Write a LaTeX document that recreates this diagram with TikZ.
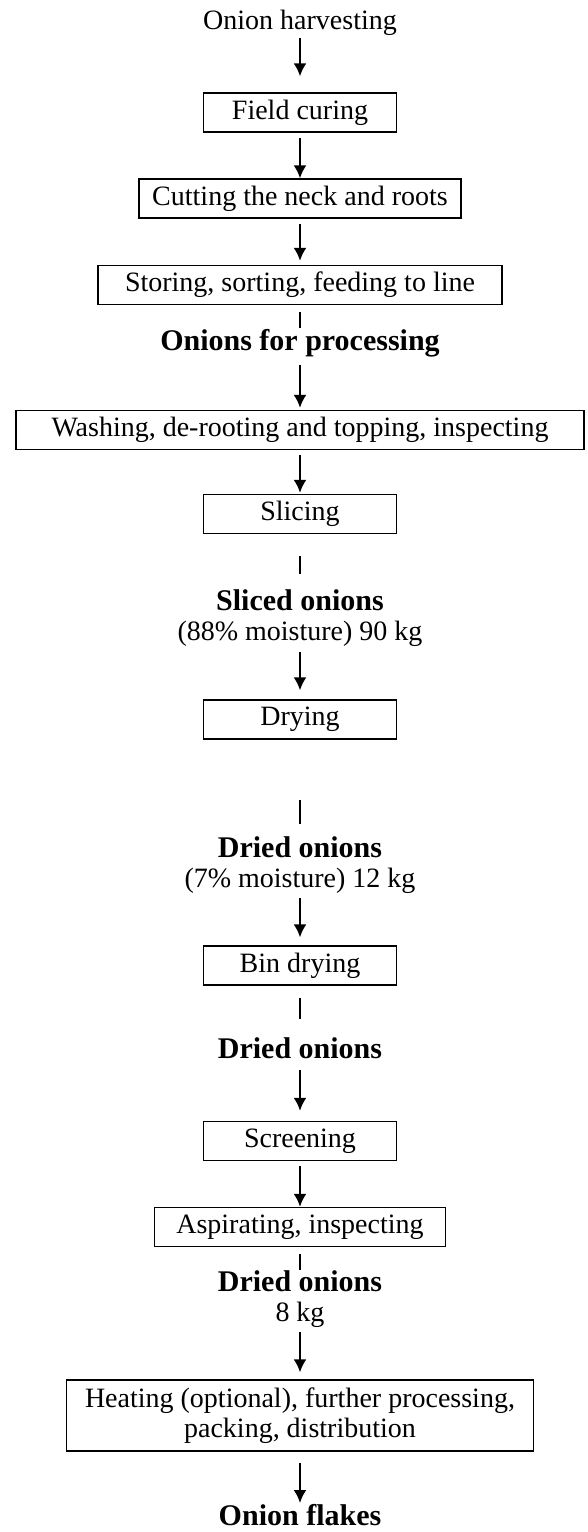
\documentclass[tikz,border=0pt]{standalone}
\usepackage{fontspec}
\setmainfont{Liberation Serif}
\usetikzlibrary{positioning,arrows.meta}

\begin{document}
\begin{tikzpicture}[node distance=86pt, auto]

\tikzstyle{block} = [rectangle, draw, line width=1.2pt, minimum width=193pt,
minimum height=39pt, text centered, font=\fontsize{28}{30}\selectfont]
\tikzstyle{stage} = [inner sep=0pt, align=center,
font=\fontsize{28}{30}\selectfont]
\tikzstyle{product} = [stage, font=\fontsize{30}{30}\selectfont\bfseries]
\tikzstyle{line} = [draw, -{Latex[length=13pt,width=13pt]}, line width=2.5pt]
\tikzstyle{stub} = [draw, line width=2.5pt]

\useasboundingbox (0,0) rectangle (587pt,-1532pt);

\node [stage] (harvest) at (300pt,-23pt) {Onion harvesting};
\node [block, below of=harvest, node distance=89.5pt] (field) {Field curing};
\node [block, minimum width=322pt, below of=field] (cut) {Cutting the neck and roots};
\node [block, minimum width=404pt, below of=cut, node distance=86.5pt] (store)
{Storing, sorting, feeding to line};
\node [product, below of=store, node distance=58pt] (proc) {Onions for processing};
\node [block, minimum width=568pt, below of=proc, node distance=87pt] (wash)
{Washing, de-rooting and topping, inspecting};
\node [block, below of=wash, node distance=84pt] (slice) {Slicing};
\node [stage, below of=slice, node distance=104pt] (sliced)
{{\fontsize{30}{30}\selectfont\bfseries Sliced onions}\\(88\% moisture) 90 kg};
\node [block, below of=sliced, node distance=101.5pt] (dry) {Drying};

% second page of the chart
\node [stage, below of=dry, node distance=145.5pt] (dried-a)
{{\fontsize{30}{30}\selectfont\bfseries Dried onions}\\(7\% moisture) 12 kg};
\node [block, below of=dried-a, node distance=100.5pt] (bin) {Bin drying};
\node [product, below of=bin, node distance=82.5pt] (dried-b) {Dried onions};
\node [block, below of=dried-b, node distance=93pt] (screen) {Screening};
\node [block, minimum width=291pt, below of=screen] (aspir) {Aspirating, inspecting};
\node [stage, below of=aspir, node distance=72pt] (dried-c)
{{\fontsize{30}{30}\selectfont\bfseries Dried onions}\\8 kg};
\node [block, minimum width=467pt, minimum height=71pt, align=center,
below of=dried-c, node distance=116.5pt] (heat)
{Heating (optional), further processing,\\packing, distribution};
\node [product, below of=heat, node distance=100pt] (flakes) {Onion flakes};

\path [line, shorten <=2.5pt, shorten >=16pt] (harvest) -- (field);
\path [line, shorten <=5pt, shorten >=0pt] (field) -- (cut);
\path [line, shorten <=5pt, shorten >=4pt] (cut) -- (store);
\path [stub, shorten <=7pt, shorten >=1pt] (store) -- (proc);
\path [line, shorten <=7.5pt, shorten >=2pt] (proc) -- (wash);
\path [line, shorten <=5pt, shorten >=1pt] (wash) -- (slice);
\path [stub, shorten <=22pt, shorten >=15.5pt] (slice) -- (sliced);
\path [line, shorten <=5.5pt, shorten >=9pt] (sliced) -- (dry);
\path [stub, shorten <=60pt, shorten >=12.5pt] (dry) -- (dried-a);
\path [line, shorten <=4.5pt, shorten >=8pt] (dried-a) -- (bin);
\path [stub, shorten <=12pt, shorten >=18.5pt] (bin) -- (dried-b);
\path [line, shorten <=11.5pt, shorten >=10pt] (dried-b) -- (screen);
\path [line, shorten <=5pt, shorten >=0pt] (screen) -- (aspir);
\path [stub, shorten <=7pt, shorten >=0pt] (aspir) -- (dried-c);
\path [line, shorten <=4.5pt, shorten >=7pt] (dried-c) -- (heat);
\path [line, shorten <=11pt, shorten >=1.5pt] (heat) -- (flakes);
\end{tikzpicture}
\end{document}
